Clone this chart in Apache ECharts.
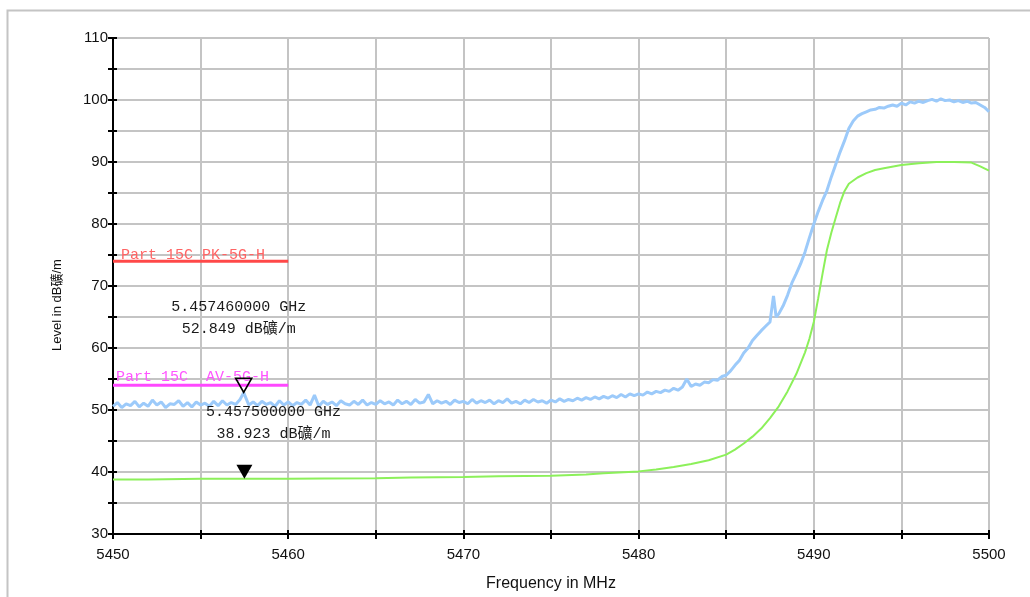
<!DOCTYPE html>
<html>
<head>
<meta charset="utf-8">
<script src="https://cdn.jsdelivr.net/npm/echarts@6/dist/echarts.min.js"></script>
<style>
  html, body { margin: 0; padding: 0; background: #fff; }
  #chart { width: 1030px; height: 597px; }
</style>
</head>
<body>
<div id="chart"></div>
<script>
// peak trace (blue), [MHz, dBuV/m]
const peakTrace = [
  [5450.00, 50.6], [5450.25, 51.2], [5450.50, 50.4], [5450.75, 51.0], [5451.00, 50.7],
  [5451.25, 51.4], [5451.50, 50.5], [5451.75, 51.1], [5452.00, 50.6], [5452.25, 51.6],
  [5452.50, 50.8], [5452.75, 51.3], [5453.00, 50.4], [5453.25, 51.0], [5453.50, 50.9],
  [5453.75, 51.5], [5454.00, 50.6], [5454.25, 51.2], [5454.50, 50.5], [5454.75, 51.3],
  [5455.00, 50.8], [5455.25, 51.1], [5455.50, 50.6], [5455.75, 51.4], [5456.00, 50.7],
  [5456.25, 51.5], [5456.50, 50.8], [5456.75, 51.2], [5457.00, 50.9], [5457.25, 51.7],
  [5457.46, 52.8], [5457.75, 50.8], [5458.00, 51.3], [5458.25, 50.7], [5458.50, 51.4],
  [5458.75, 50.9], [5459.00, 51.2], [5459.25, 50.6], [5459.50, 51.5], [5459.75, 50.8],
  [5460.00, 51.3], [5460.25, 50.7], [5460.50, 51.2], [5460.75, 50.9], [5461.00, 51.6],
  [5461.25, 50.8], [5461.50, 52.4], [5461.75, 50.6], [5462.00, 51.4], [5462.25, 50.9],
  [5462.50, 51.3], [5462.75, 50.7], [5463.00, 51.5], [5463.25, 51.0], [5463.50, 50.8],
  [5463.75, 51.4], [5464.00, 50.9], [5464.25, 51.6], [5464.50, 50.8], [5464.75, 51.2],
  [5465.00, 50.9], [5465.25, 51.5], [5465.50, 51.0], [5465.75, 51.3], [5466.00, 50.8],
  [5466.25, 51.6], [5466.50, 51.0], [5466.75, 51.4], [5467.00, 50.9], [5467.25, 51.7],
  [5467.50, 51.1], [5467.75, 51.3], [5468.00, 52.5], [5468.25, 51.0], [5468.50, 51.5],
  [5468.75, 51.1], [5469.00, 51.4], [5469.25, 50.9], [5469.50, 51.6], [5469.75, 51.2],
  [5470.00, 51.4], [5470.25, 51.0], [5470.50, 51.7], [5470.75, 51.1], [5471.00, 51.5],
  [5471.25, 51.2], [5471.50, 51.6], [5471.75, 51.0], [5472.00, 51.5], [5472.25, 51.2],
  [5472.50, 51.8], [5472.75, 51.1], [5473.00, 51.4], [5473.25, 51.0], [5473.50, 51.6],
  [5473.75, 51.2], [5474.00, 51.7], [5474.25, 51.3], [5474.50, 51.5], [5474.75, 51.1],
  [5475.00, 51.6], [5475.25, 51.3], [5475.50, 51.8], [5475.75, 51.4], [5476.00, 51.7],
  [5476.25, 51.5], [5476.50, 51.9], [5476.75, 51.6], [5477.00, 52.0], [5477.25, 51.7],
  [5477.50, 52.1], [5477.75, 51.8], [5478.00, 52.2], [5478.25, 51.9], [5478.50, 52.3],
  [5478.75, 52.0], [5479.00, 52.5], [5479.25, 52.1], [5479.50, 52.6], [5479.75, 52.3],
  [5480.00, 52.6], [5480.25, 52.4], [5480.50, 52.9], [5480.75, 52.6], [5481.00, 53.0],
  [5481.25, 52.8], [5481.50, 53.2], [5481.75, 53.0], [5482.00, 53.5], [5482.25, 53.2],
  [5482.50, 53.7], [5482.75, 55.0], [5483.00, 53.8], [5483.25, 54.2], [5483.50, 54.0],
  [5483.75, 54.5], [5484.00, 54.4], [5484.25, 54.9], [5484.50, 54.8], [5484.75, 55.4],
  [5485.00, 55.6], [5485.25, 56.3], [5485.50, 57.2], [5485.75, 58.0], [5486.00, 59.2],
  [5486.25, 60.0], [5486.50, 61.2], [5486.75, 62.0], [5487.00, 62.8], [5487.25, 63.5],
  [5487.50, 64.2], [5487.70, 68.4], [5487.85, 65.0], [5488.00, 65.5], [5488.25, 66.8],
  [5488.50, 68.5], [5488.75, 70.5], [5489.00, 72.0], [5489.25, 73.6], [5489.50, 75.5],
  [5489.75, 77.8], [5490.00, 80.0], [5490.25, 82.0], [5490.50, 83.8], [5490.75, 85.4],
  [5491.00, 87.6], [5491.25, 89.6], [5491.50, 91.6], [5491.75, 93.4], [5492.00, 95.4],
  [5492.25, 96.6], [5492.50, 97.4], [5492.75, 97.8], [5493.00, 98.1], [5493.25, 98.4],
  [5493.50, 98.5], [5493.75, 98.8], [5494.00, 98.7], [5494.25, 99.0], [5494.50, 99.2],
  [5494.75, 99.0], [5495.00, 99.5], [5495.25, 99.2], [5495.50, 99.7], [5495.75, 99.5],
  [5496.00, 99.8], [5496.25, 99.6], [5496.50, 99.9], [5496.75, 100.1], [5497.00, 99.8],
  [5497.25, 100.2], [5497.50, 99.9], [5497.75, 100.0], [5498.00, 99.7], [5498.25, 99.9],
  [5498.50, 99.6], [5498.75, 99.8], [5499.00, 99.5], [5499.25, 99.6], [5499.50, 99.2],
  [5499.75, 98.8], [5500.00, 98.1]
];

// average trace (green)
const avgTrace = [
  [5450, 38.8], [5452, 38.8], [5455, 38.9], [5457.5, 38.92], [5460, 38.9],
  [5462, 38.95], [5465, 39.0], [5467, 39.1], [5470, 39.2], [5472, 39.3],
  [5475, 39.4], [5477, 39.6], [5478, 39.8], [5480, 40.1], [5481, 40.4],
  [5482, 40.8], [5483, 41.3], [5484, 41.9], [5485, 42.8], [5485.5, 43.6],
  [5486, 44.6], [5486.5, 45.7], [5487, 47.0], [5487.5, 48.7], [5488, 50.6],
  [5488.5, 53.0], [5489, 55.8], [5489.5, 59.3], [5489.75, 61.5], [5490, 64.2],
  [5490.25, 68.0], [5490.5, 72.0], [5490.75, 75.8], [5491, 78.6], [5491.25, 81.0],
  [5491.5, 83.4], [5491.75, 85.3], [5492, 86.5], [5492.5, 87.5], [5493, 88.2],
  [5493.5, 88.7], [5494, 89.0], [5495, 89.5], [5496, 89.8], [5497, 90.0],
  [5498, 90.0], [5499, 89.9], [5499.5, 89.3], [5500, 88.6]
];

// limit lines
const pkLimit = [[5450, 74], [5460, 74]];
const avLimit = [[5450, 54], [5460, 54]];
const pkLimitName = 'Part 15C PK-5G-H';
const avLimitName = 'Part 15C  AV-5G-H';

// markers
const peakMarker = [5457.46, 52.849];
const avgMarker = [5457.5, 38.923];
const peakMarkerText = '5.457460000 GHz\n52.849 dB礦/m';
const avgMarkerText = '5.457500000 GHz\n38.923 dB礦/m';

const xMin = 5450, xMax = 5500, yMin = 30, yMax = 110;

const chart = echarts.init(document.getElementById('chart'));

const monoFont = '"Liberation Mono", "Noto Sans CJK SC", monospace';
const sansFont = '"Liberation Sans", Arial, "Noto Sans CJK SC", sans-serif';
const triPath = 'path://M0,0 L16,0 L8,14 Z';

function limitSeries(name, data, lineColor, textColor, off) {
  return {
    name: name, type: 'line', showSymbol: true, symbol: 'circle', symbolSize: 0, z: 5,
    lineStyle: { color: lineColor, width: 3 },
    itemStyle: { color: lineColor },
    label: { show: false },
    data: data.map((p, i) => i === 0 ? {
      value: p,
      label: {
        show: true, position: 'top', align: 'left', distance: 3, offset: off,
        formatter: name, fontFamily: monoFont, fontSize: 15, color: textColor
      }
    } : p)
  };
}

const option = {
  animation: false,
  backgroundColor: '#fff',
  graphic: [{
    type: 'rect',
    left: 5, top: 8,
    shape: { width: 1100, height: 700 },
    style: { fill: 'none', stroke: '#c4c4c4', lineWidth: 2 },
    silent: true
  }],
  grid: { left: 113, right: 41, top: 38, bottom: 59, containLabel: false },
  xAxis: [{
    type: 'value', min: xMin, max: xMax, interval: 5,
    name: 'Frequency in MHz', nameLocation: 'middle', nameGap: 42,
    nameTextStyle: { fontFamily: sansFont, fontSize: 16, color: '#111' },
    axisLine: { lineStyle: { color: '#000', width: 2 } },
    axisTick: { length: 5, lineStyle: { color: '#000', width: 2 } },
    axisLabel: {
      margin: 13, fontFamily: sansFont, fontSize: 15, color: '#111',
      formatter: v => (v % 10 === 0 ? String(v) : '')
    },
    splitLine: { show: true, lineStyle: { color: '#c4c4c4', width: 2 } }
  }, {
    type: 'value', min: xMin, max: xMax, interval: 5, position: 'bottom',
    axisLine: { show: false },
    axisTick: { inside: true, length: 4, lineStyle: { color: '#000', width: 2 } },
    axisLabel: { show: false }, splitLine: { show: false }
  }],
  yAxis: [{
    type: 'value', min: yMin, max: yMax, interval: 5,
    name: 'Level in dB礦/m', nameLocation: 'middle', nameGap: 49,
    nameTextStyle: { fontFamily: sansFont, fontSize: 13, color: '#111', padding: [0, 38, 0, 0] },
    axisLine: { show: true, lineStyle: { color: '#000', width: 2 } },
    axisTick: { show: true, length: 5, lineStyle: { color: '#000', width: 2 } },
    axisLabel: {
      margin: 5, fontFamily: sansFont, fontSize: 15, color: '#111',
      formatter: v => (v % 10 === 0 ? String(v) : '')
    },
    splitLine: { show: true, lineStyle: { color: '#c4c4c4', width: 2 } }
  }, {
    type: 'value', min: yMin, max: yMax, interval: 5, position: 'left',
    axisLine: { show: false },
    axisTick: { show: true, inside: true, length: 4, lineStyle: { color: '#000', width: 2 } },
    axisLabel: { show: false }, splitLine: { show: false }
  }],
  series: [
    {
      name: 'Average', type: 'line', data: avgTrace, showSymbol: false,
      lineStyle: { color: '#8cf05a', width: 2 }, z: 3
    },
    {
      name: 'Peak', type: 'line', data: peakTrace, showSymbol: false,
      lineStyle: { color: '#9ccafa', width: 3 }, z: 4
    },
    limitSeries(pkLimitName, pkLimit, '#ff4848', '#ff6464', [8, 4]),
    limitSeries(avLimitName, avLimit, '#ff48ff', '#ff55ff', [3, 2]),
    {
      name: 'Peak marker', type: 'scatter', data: [peakMarker], z: 6,
      symbol: triPath, symbolSize: [16, 14], symbolOffset: [0, -7],
      itemStyle: { color: 'rgba(255,255,255,0)', borderColor: '#000', borderWidth: 1.6, opacity: 1 },
      label: {
        show: true, position: 'inside', offset: [-5, -67], formatter: peakMarkerText,
        fontFamily: monoFont, fontSize: 15, lineHeight: 22, color: '#1a1a1a', align: 'center'
      }
    },
    {
      name: 'Average marker', type: 'scatter', data: [avgMarker], z: 6,
      symbol: triPath, symbolSize: [16, 14], symbolOffset: [0, -7],
      itemStyle: { color: '#000', opacity: 1 },
      label: {
        show: true, position: 'inside', offset: [29, -49], formatter: avgMarkerText,
        fontFamily: monoFont, fontSize: 15, lineHeight: 22, color: '#1a1a1a', align: 'center'
      }
    }
  ]
};

chart.setOption(option);
</script>
</body>
</html>
